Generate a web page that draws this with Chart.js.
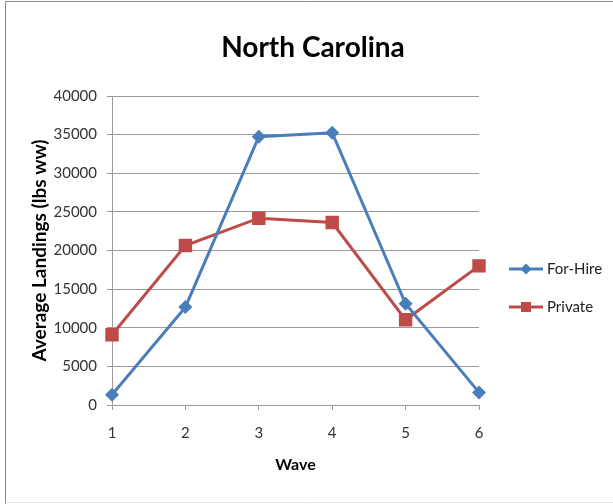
<!DOCTYPE html>
<html>
<head>
<meta charset="utf-8">
<script src="https://cdn.jsdelivr.net/npm/chart.js@4"></script>
<style>
  html, body { margin: 0; padding: 0; background: #ffffff; }
  #wrap { width: 613px; height: 504px; }
</style>
</head>
<body>
<div id="wrap"><canvas id="chart" width="613" height="504"></canvas></div>
<script>
// Average landings by wave, North Carolina
const waves = ['1', '2', '3', '4', '5', '6'];
const forHire = [1330, 12670, 34740, 35250, 13100, 1630];
const privateMode = [9090, 20640, 24180, 23620, 11030, 18010];
const yTicks = [0, 5000, 10000, 15000, 20000, 25000, 30000, 35000, 40000];

const FONT = 'Lato, "Open Sans", sans-serif';
const BLUE = '#4a7ebb';
const RED = '#be4b48';

// White page with a thin grey frame around the chart
const framePlugin = {
  id: 'frame',
  beforeDraw(chart) {
    const ctx = chart.ctx;
    ctx.save();
    ctx.fillStyle = '#ffffff';
    ctx.fillRect(0, 0, chart.width, chart.height);
    ctx.strokeStyle = '#8a8a8a';
    ctx.lineWidth = 1;
    ctx.beginPath();
    ctx.moveTo(5.5, chart.height);
    ctx.lineTo(5.5, 1.5);
    ctx.lineTo(chart.width, 1.5);
    ctx.stroke();
    ctx.strokeStyle = '#e4e4e4';
    ctx.beginPath();
    ctx.moveTo(5.5, chart.height - 1.5);
    ctx.lineTo(chart.width, chart.height - 1.5);
    ctx.stroke();
    ctx.restore();
  }
};

// Legend to the right of the plot: line sample with its marker, then the series name
const sideLegend = {
  id: 'sideLegend',
  afterDraw(chart) {
    const ctx = chart.ctx;
    const x0 = 509, x1 = 543, rows = [269, 307];
    ctx.save();
    chart.data.datasets.forEach((ds, i) => {
      const y = rows[i];
      ctx.strokeStyle = ds.borderColor;
      ctx.lineWidth = 3;
      ctx.beginPath();
      ctx.moveTo(x0, y);
      ctx.lineTo(x1, y);
      ctx.stroke();
      const mx = (x0 + x1) / 2;
      ctx.fillStyle = ds.backgroundColor;
      ctx.beginPath();
      if (ds.pointStyle === 'rect') {
        ctx.rect(mx - 5, y - 5, 10, 10);
      } else {
        ctx.moveTo(mx - 5.5, y);
        ctx.lineTo(mx, y - 5.5);
        ctx.lineTo(mx + 5.5, y);
        ctx.lineTo(mx, y + 5.5);
        ctx.closePath();
      }
      ctx.fill();
      ctx.fillStyle = '#222222';
      ctx.font = '15px ' + FONT;
      ctx.textAlign = 'left';
      ctx.textBaseline = 'middle';
      ctx.fillText(ds.label, 547, y);
    });
    ctx.restore();
  }
};

new Chart(document.getElementById('chart'), {
  type: 'line',
  data: {
    labels: waves,
    datasets: [
      {
        label: 'For-Hire',
        data: forHire,
        borderColor: BLUE,
        backgroundColor: BLUE,
        borderWidth: 3,
        pointStyle: 'rectRot',
        pointRadius: 7,
        pointBorderWidth: 0,
        tension: 0
      },
      {
        label: 'Private',
        data: privateMode,
        borderColor: RED,
        backgroundColor: RED,
        borderWidth: 3,
        pointStyle: 'rect',
        pointRadius: 9.5,
        pointBorderWidth: 0,
        tension: 0
      }
    ]
  },
  options: {
    responsive: false,
    animation: false,
    layout: { padding: { left: 13, right: 0, top: 0, bottom: 0 } },
    plugins: {
      legend: { display: false },
      tooltip: { enabled: false },
      title: {
        display: true,
        text: 'North Carolina',
        color: '#000000',
        font: { family: FONT, size: 28, weight: 'bold', lineHeight: 1.2 },
        padding: { top: 31, bottom: 31.4 }
      }
    },
    scales: {
      x: {
        type: 'category',
        offset: false,
        afterFit(scale) { scale.height = 99; },
        grid: { drawOnChartArea: false, drawTicks: true, tickLength: 5, color: '#9a9a9a' },
        border: { color: '#9a9a9a', width: 1 },
        ticks: { color: '#333333', font: { family: FONT, size: 15 }, padding: 14, maxRotation: 0 },
        title: {
          display: true,
          text: 'Wave',
          color: '#000000',
          font: { family: FONT, size: 16, weight: 'bold', lineHeight: 1.2 },
          padding: { top: 0, bottom: 29.5 }
        }
      },
      y: {
        min: 0,
        max: 40000,
        afterFit(scale) { scale.width = 99; },
        afterBuildTicks(scale) { scale.ticks = yTicks.map(v => ({ value: v })); },
        grid: { drawTicks: true, tickLength: 5, color: '#9a9a9a' },
        border: { color: '#9a9a9a', width: 1 },
        ticks: {
          color: '#333333',
          font: { family: FONT, size: 15 },
          padding: 10,
          callback: v => String(v)
        },
        title: {
          display: true,
          text: 'Average Landings (lbs ww)',
          color: '#000000',
          font: { family: FONT, size: 19, weight: 'bold', lineHeight: 1.2 },
          padding: { top: 15.6, bottom: 0 }
        }
      },
      // empty strip on the right that holds the legend
      side: {
        type: 'linear',
        position: 'right',
        display: true,
        afterFit(scale) { scale.width = 134; },
        grid: { display: false, drawTicks: false },
        border: { display: false },
        ticks: { display: false }
      }
    }
  },
  plugins: [framePlugin, sideLegend]
});
</script>
</body>
</html>
